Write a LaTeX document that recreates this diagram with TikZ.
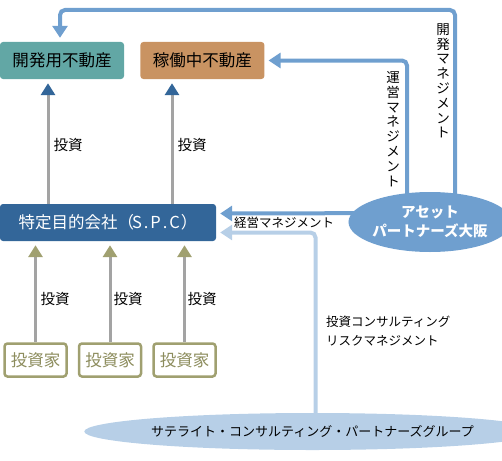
\documentclass[tikz,border=0pt]{standalone}
\usepackage{fontspec}
\setmainfont{Noto Sans CJK JP}
\usetikzlibrary{positioning, arrows.meta, shapes.geometric, backgrounds}

\definecolor{devteal}{HTML}{62A7A5}
\definecolor{opbrown}{HTML}{C99362}
\definecolor{spcblue}{HTML}{336699}
\definecolor{mgmtblue}{HTML}{6F9FCF}
\definecolor{paleblue}{HTML}{B7CFE7}
\definecolor{investgray}{HTML}{A3A3A3}
\definecolor{olive}{HTML}{A0A070}
\definecolor{olivetext}{HTML}{8C8C5C}

\begin{document}
\begin{tikzpicture}[
  x=1pt, y=-1pt,
  node distance=16pt and 16pt,
  box/.style={rounded corners=3pt, minimum height=37pt, minimum width=124pt, inner sep=0pt, align=center, font=\fontsize{16.5}{18}\selectfont},
  invbox/.style={draw=olive, line width=2.5pt, fill=white, rounded corners=3pt, minimum height=33pt, minimum width=62pt, inner sep=0pt, text=olivetext, font=\fontsize{16.5}{18}\selectfont},
  lbl/.style={font=\fontsize{12.5}{15}\selectfont, inner sep=0pt},
  invlbl/.style={lbl, font=\fontsize{14.5}{16}\selectfont},
  vlbl/.style={lbl, align=center, font=\fontsize{13.5}{14.8}\selectfont},
  mgmt/.style={line width=4pt, draw=mgmtblue, rounded corners=5pt, -{Triangle[width=15pt, length=12pt]}, shorten >=4pt},
  consult/.style={mgmt, draw=paleblue},
  invarr/.style={line width=3pt, draw=investgray, shorten >=4pt},
]
\useasboundingbox (0,0) rectangle (502,460);

% === Real estate ===
\node[box, fill=devteal] (devland) at (62,60.5) {開発用不動産};
\node[box, fill=opbrown, right=16pt of devland] (opland) {稼働中不動産};

% === SPC ===
\node[box, fill=spcblue, text=white, minimum width=216pt] (spc) at (108,222.5) {特定目的会社（\kern-2pt S\kern2pt.\kern2pt P\kern2pt.\kern2pt C\kern1pt）};

% === Investors ===
\node[invbox] (inv1) at (35.5,360) {投資家};
\node[invbox, right=10pt of inv1] (inv2) {投資家};
\node[invbox, right=10pt of inv2] (inv3) {投資家};

% === Managers ===
\node[ellipse, fill=mgmtblue, text=white, minimum width=144pt, minimum height=60pt, inner sep=0pt, align=center,
      font=\fontsize{14.5}{18.5}\selectfont\bfseries] (asset) at (430,222) {アセット\\パートナーズ大阪};
\node[ellipse, fill=paleblue, minimum width=379pt, minimum height=37pt, inner sep=0pt,
      font=\fontsize{13}{16}\selectfont] (satellite) at (312.5,431.5) {サテライト・コンサルティング・パートナーズグループ};

% === Connectors ===
\coordinate (devbend) at (60,10);
\coordinate (devinv) at (48,0);
\coordinate (opinv) at (172,0);
\begin{scope}[on background layer]
  \draw[mgmt] ([xshift=25pt]asset.center) |- (devbend) -- (devland.north -| devbend);
  \draw[mgmt] ([xshift=-23pt]asset.center) |- (opland.east);
  \draw[mgmt] ([yshift=9pt]asset.center) -- ([yshift=9pt]spc.east);
  \draw[consult] ([xshift=3pt]satellite.center) |- ([yshift=-10pt]spc.east);
\end{scope}

\draw[invarr, -{Triangle[width=14pt, length=12pt, color=spcblue]}] (spc.north -| devinv) -- (devland.south -| devinv);
\draw[invarr, -{Triangle[width=14pt, length=12pt, color=spcblue]}] (spc.north -| opinv) -- (opland.south -| opinv);
\foreach \i in {1,2,3}
  \draw[invarr, -{Triangle[width=14pt, length=12pt, color=olive]}] (inv\i.north) -- (spc.south -| inv\i.north);

% === Labels ===
\node[invlbl] (devinvlbl) at (68,145) {投資};
\node[invlbl] (opinvlbl) at (192,145) {投資};
\node[invlbl] (inv1lbl) at (55,299) {投資};
\node[invlbl] (inv2lbl) at (128,299) {投資};
\node[invlbl] (inv3lbl) at (202,299) {投資};
\node[vlbl] (devmgmtlbl) at (443,81) {開\\発\\マ\\ネ\\ジ\\メ\\ン\\ト};
\node[vlbl] (opmgmtlbl) at (393,129) {運\\営\\マ\\ネ\\ジ\\メ\\ン\\ト};
\node[lbl, anchor=west] (corpmgmtlbl) at (234,223) {経営マネジメント};
\node[lbl, anchor=west, align=left, font=\fontsize{12.5}{19}\selectfont] (consultlbl) at (326,331) {投資コンサルティング\\リスクマネジメント};
\end{tikzpicture}
\end{document}
